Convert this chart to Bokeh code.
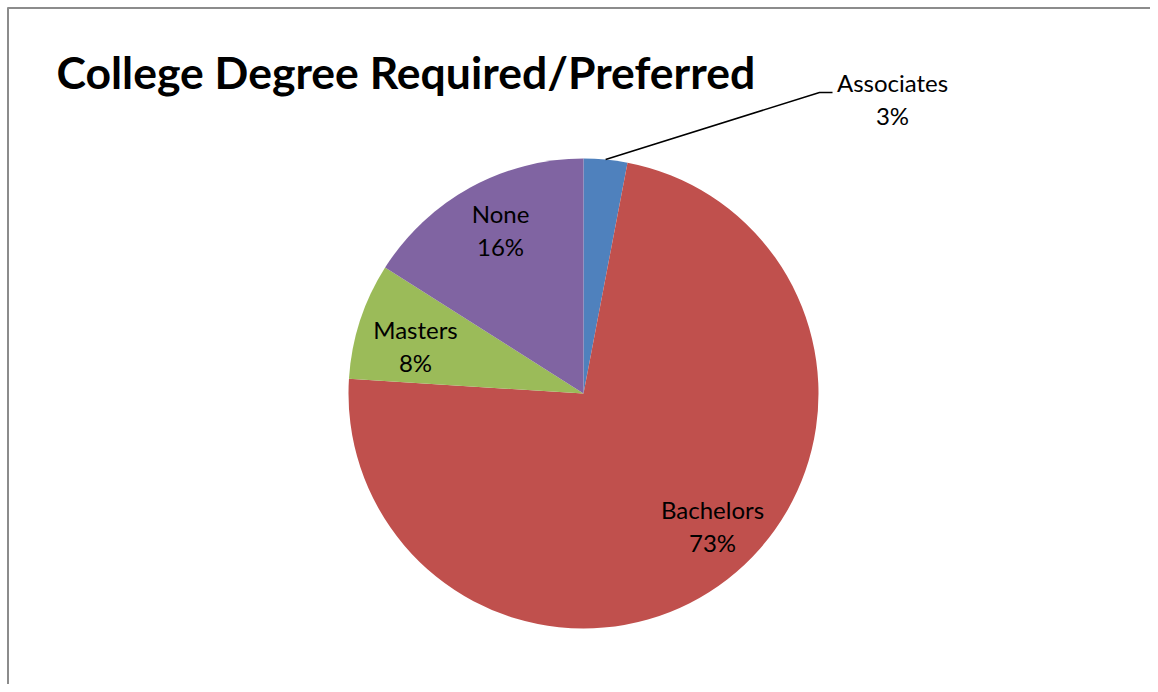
import numpy as np
from bokeh.plotting import figure
from bokeh.models import Range1d
from bokeh.core.properties import value
from bokeh.embed import file_html
from bokeh.resources import INLINE

# ---- data ----
title_text = "College Degree Required/Preferred"
categories = ["Associates", "Bachelors", "Masters", "None"]
shares = [3, 73, 8, 16]
colors = ["#4F81BD", "#C0504D", "#9BBB59", "#8064A2"]

# ---- layout (picture pixel coordinates) ----
W, H = 1150, 684
def fx(px):
    return px
def fy(py):
    return H - py

cx, cy, R = fx(583), fy(393), 235
label_pos = {  # (center x, name row y, pct row y) in picture px
    "Associates": (892, 82, 115),
    "Bachelors": (712, 509, 542),
    "Masters": (415, 329, 362),
    "None": (500, 213, 246),
}
FONT = "Lato"

total = float(sum(shares))
frac = np.array(shares) / total
cum = np.concatenate([[0.0], np.cumsum(frac)])
start = np.pi / 2 - 2 * np.pi * cum[:-1]
end = np.pi / 2 - 2 * np.pi * cum[1:]
pct = [f"{round(f * 100)}%" for f in frac]

p = figure(width=W, height=H, x_range=Range1d(0, W), y_range=Range1d(0, H),
           output_backend="svg", toolbar_location=None,
           x_axis_type=None, y_axis_type=None, min_border=0)
p.grid.visible = False
p.outline_line_color = None
p.background_fill_color = "white"
p.border_fill_color = "white"

# chart border (left and top edges visible)
p.segment(x0=[fx(7.5), fx(7)], y0=[0, fy(7.5)], x1=[fx(7.5), W], y1=[fy(7), fy(7.5)],
          line_color="#8C8C8C", line_width=2)

p.wedge(x=cx, y=cy, radius=R, start_angle=start, end_angle=end,
        direction="clock", fill_color=colors, line_color=None)

# leader line for Associates
mid0 = (start[0] + end[0]) / 2
lx0, ly0 = cx + R * np.cos(mid0), cy + R * np.sin(mid0)
p.line(x=[lx0, fx(819), fx(832)], y=[ly0, fy(92), fy(92)],
       line_color="black", line_width=1.5)

# data labels
for name, pc in zip(categories, pct):
    x, y1, y2 = label_pos[name]
    p.text(x=[fx(x), fx(x)], y=[fy(y1), fy(y2)], text=[name, pc],
           text_font=value(FONT), text_font_size="24px", text_color="black",
           text_align="center", text_baseline="middle")

# title
p.text(x=[fx(56)], y=[fy(71)], text=[title_text], text_font=value(FONT),
       text_font_size="44.5px", text_font_style="bold", text_color="black",
       text_align="left", text_baseline="alphabetic")

open("out.html", "w").write(file_html(p, INLINE))
